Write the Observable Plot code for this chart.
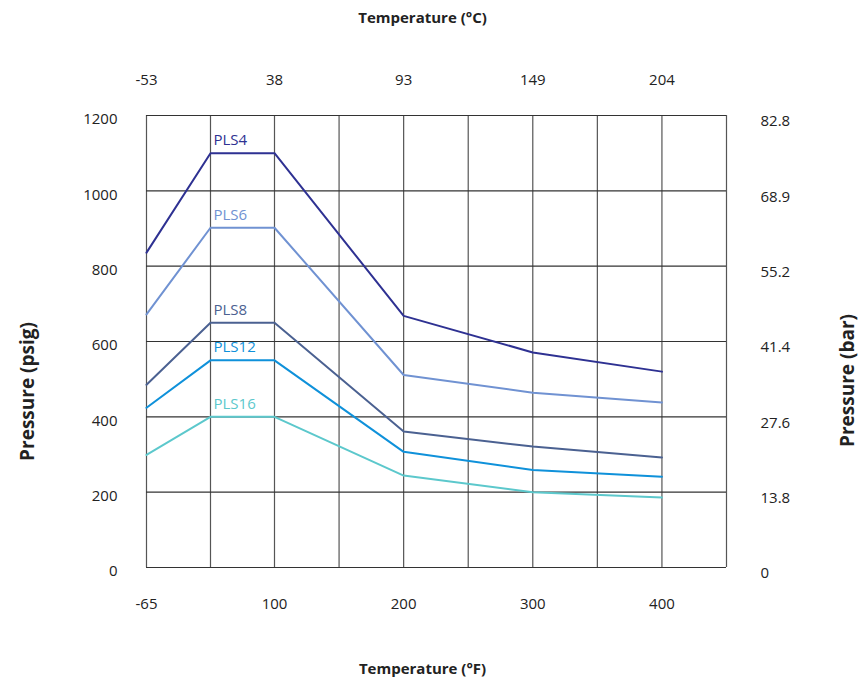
<!DOCTYPE html>
<html>
<head>
<meta charset="utf-8">
<script src="https://cdn.jsdelivr.net/npm/d3@7"></script>
<script src="https://cdn.jsdelivr.net/npm/@observablehq/plot@0.6"></script>
<style>
  html, body { margin: 0; padding: 0; background: #fff; }
  #chart svg { display: block; }
</style>
</head>
<body>
<div id="chart"></div>
<script>
// ---- data ----
const fTicks = [-65, 100, 200, 300, 400];
const cLabels = ["-53", "38", "93", "149", "204"];
const psigTicks = [0, 200, 400, 600, 800, 1000, 1200];
const barLabels = ["0", "13.8", "27.6", "41.4", "55.2", "68.9", "82.8"];
const gridF = [-65, 17.5, 100, 150, 200, 250, 300, 350, 400, 450];
const tempF = [-65, 17.5, 100, 200, 300, 400];
const series = ["PLS4", "PLS6", "PLS8", "PLS12", "PLS16"];
const pls4 = [836, 1100, 1100, 668, 571, 520];
const pls6 = [672, 902, 902, 511, 464, 438];
const pls8 = [485, 650, 650, 361, 321, 292];
const pls12 = [424, 550, 550, 307, 259, 241];
const pls16 = [299, 400, 400, 244, 200, 186];
const colors = ["#2e3192", "#7092d2", "#4b6191", "#0f91da", "#5cc8cc"];

const valuesBySeries = [pls4, pls6, pls8, pls12, pls16];
const rows = [];
series.forEach((s, i) => tempF.forEach((t, j) => rows.push({series: s, F: t, psig: valuesBySeries[i][j]})));
const labels = series.map((s, i) => ({series: s, F: tempF[1], psig: valuesBySeries[i][1]}));

const font = "'Open Sans', 'DejaVu Sans', sans-serif";

const chart = Plot.plot({
  width: 859,
  height: 682,
  marginLeft: 146,
  marginRight: 133,
  marginTop: 115,
  marginBottom: 115,
  style: {fontFamily: font, fontSize: "15px", color: "#222", background: "#fff"},
  x: {type: "linear", domain: [-65, 100, 450], range: [146, 274, 726]},
  y: {domain: [0, 1200], range: [567, 115]},
  color: {domain: series, range: colors},
  marks: [
    Plot.ruleX(gridF, {y1: 0, y2: 1200, stroke: "#555", strokeWidth: 1.2}),
    Plot.ruleY(psigTicks, {x1: -65, x2: 450, stroke: "#333", strokeWidth: 1.2}),
    Plot.axisY({anchor: "left", ticks: psigTicks, tickSize: 0, tickPadding: 29, label: null, dy: 4, fontSize: 15,
      tickFormat: d => String(d)}),
    Plot.axisY({anchor: "right", ticks: psigTicks, tickSize: 0, tickPadding: 34, label: null, dy: 6, fontSize: 15,
      tickFormat: d => barLabels[psigTicks.indexOf(d)]}),
    Plot.axisX({anchor: "bottom", ticks: fTicks, tickSize: 0, tickPadding: 31, label: null, fontSize: 15,
      tickFormat: d => String(d)}),
    Plot.axisX({anchor: "top", ticks: fTicks, tickSize: 0, tickPadding: 31, label: null, fontSize: 15,
      tickFormat: d => cLabels[fTicks.indexOf(d)]}),
    Plot.line(rows, {x: "F", y: "psig", z: "series", stroke: "series", strokeWidth: 2}),
    Plot.text(labels, {x: "F", y: "psig", text: "series", fill: "series", textAnchor: "start",
      lineAnchor: "bottom", dx: 3, dy: -8, fontSize: 15}),
    Plot.text(["Temperature (°C)"], {frameAnchor: "top", dx: -14, dy: -103, fontWeight: "bold", fontSize: 15}),
    Plot.text(["Temperature (°F)"], {frameAnchor: "bottom", dx: -14, dy: 106, fontWeight: "bold", fontSize: 15}),
    Plot.text(["Pressure (psig)"], {frameAnchor: "left", textAnchor: "middle", dx: -119, dy: 50, rotate: -90, fontWeight: "bold", fontSize: 19}),
    Plot.text(["Pressure (bar)"], {frameAnchor: "right", textAnchor: "middle", dx: 121, dy: 39, rotate: -90, fontWeight: "bold", fontSize: 19})
  ]
});
document.getElementById("chart").appendChild(chart);
</script>
</body>
</html>
